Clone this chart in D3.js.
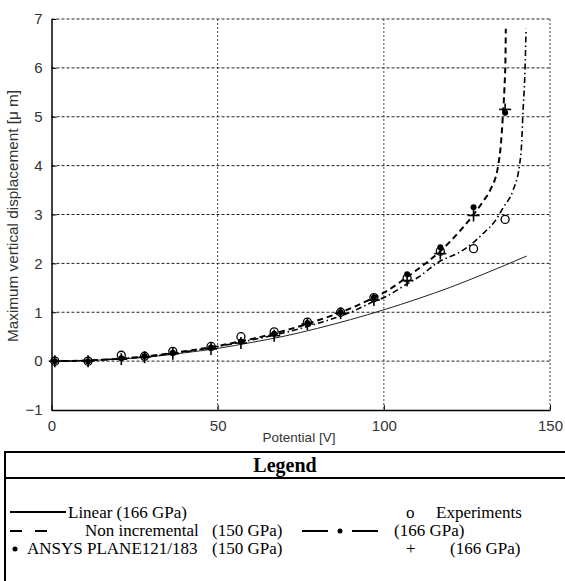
<!DOCTYPE html>
<html>
<head>
<meta charset="utf-8">
<script src="https://cdn.jsdelivr.net/npm/d3@7"></script>
<style>
  html, body { margin: 0; padding: 0; background: #fff; }
  svg { display: block; }
</style>
</head>
<body>
<svg id="chart" width="565" height="581"></svg>
<script>
// Applied potential [V] at which measurements / FE runs were taken
const potential = [1, 11, 21, 28, 36.5, 48, 57, 67, 77, 87, 97, 107, 117, 127, 136.5];
// Measured displacement [um]
const experiments = [0, 0, 0.12, 0.1, 0.2, 0.3, 0.5, 0.6, 0.8, 1.0, 1.3, 1.7, 2.25, 2.3, 2.9];
// ANSYS PLANE121/183 results
const ansys150 = [0, 0, 0.06, 0.1, 0.17, 0.28, 0.4, 0.56, 0.78, 1.0, 1.3, 1.78, 2.33, 3.15, 5.08];
const ansys166 = [0, 0, 0.04, 0.08, 0.15, 0.25, 0.37, 0.52, 0.76, 0.98, 1.25, 1.65, 2.2, 2.98, 5.15];

// Linear model (166 GPa)
const linearV = [0, 10, 20, 30, 40, 50, 60, 70, 80, 90, 100, 110, 120, 130, 143];
const linearD = [0, 0.01, 0.04, 0.09, 0.17, 0.26, 0.38, 0.51, 0.67, 0.85, 1.05, 1.27, 1.51, 1.78, 2.15];

// Non incremental model (150 GPa)
const nonInc150V = [0, 10, 20, 30, 40, 50, 60, 70, 80, 90, 97, 100, 107, 110, 117, 120, 127, 130, 132, 134.4, 135.3, 135.8, 136.3, 136.6, 136.7];
const nonInc150D = [0, 0.01, 0.05, 0.11, 0.2, 0.31, 0.45, 0.62, 0.83, 1.08, 1.3, 1.4, 1.72, 1.87, 2.25, 2.45, 3.0, 3.28, 3.5, 4.0, 4.5, 5.0, 5.6, 6.2, 6.8];

// Non incremental model (166 GPa)
const nonInc166V = [0, 10, 20, 30, 40, 50, 60, 70, 80, 90, 97, 100, 107, 110, 117, 122, 127, 130, 133.5, 136, 138.9, 140.8, 141.5, 141.8, 142.5, 142.8];
const nonInc166D = [0, 0.01, 0.05, 0.1, 0.19, 0.3, 0.43, 0.58, 0.77, 1.0, 1.22, 1.3, 1.58, 1.7, 2.05, 2.2, 2.43, 2.62, 2.87, 3.15, 3.5, 4.0, 4.5, 5.0, 6.0, 6.8];

const xTicks = [0, 50, 100, 150];
const yTicks = [-1, 0, 1, 2, 3, 4, 5, 6, 7];

const svg = d3.select("#chart");
const plot = { left: 51.5, right: 550, top: 19, bottom: 410 };

const x = d3.scaleLinear().domain([0, 150]).range([plot.left, plot.right]);
const y = d3.scaleLinear().domain([-1, 7]).range([plot.bottom, plot.top]);

// Dotted grid
const grid = svg.append("g").attr("class", "grid");
grid.selectAll("line.h").data(yTicks.filter(d => d > -1)).enter().append("line")
  .attr("x1", plot.left).attr("x2", plot.right)
  .attr("y1", d => y(d)).attr("y2", d => y(d))
  .attr("stroke", "#222").attr("stroke-width", 1).attr("stroke-dasharray", "3,2");
grid.selectAll("line.v").data(xTicks.filter(d => d > 0)).enter().append("line")
  .attr("y1", plot.top).attr("y2", plot.bottom)
  .attr("x1", d => x(d)).attr("x2", d => x(d))
  .attr("stroke", "#444").attr("stroke-width", 1).attr("stroke-dasharray", "2,2");

// Axes (ticks drawn inward)
const xAxis = d3.axisBottom(x).tickValues(xTicks).tickSizeInner(-5).tickSizeOuter(0).tickPadding(10);
const yAxis = d3.axisLeft(y).tickValues(yTicks).tickSizeInner(-5).tickSizeOuter(0).tickPadding(9);

const gx = svg.append("g").attr("transform", `translate(0,${plot.bottom})`).call(xAxis);
const gy = svg.append("g").attr("transform", `translate(${plot.left},0)`).call(yAxis);
[gx, gy].forEach(g => {
  g.select(".domain").attr("stroke", "#000").attr("stroke-width", 1.5);
  g.selectAll(".tick line").attr("stroke", "#000");
  g.selectAll(".tick text")
    .attr("font-family", "Liberation Sans, Arial, sans-serif")
    .attr("font-size", 15).attr("fill", "#333");
});

// Axis titles
svg.append("text")
  .attr("x", 299).attr("y", 442)
  .attr("text-anchor", "middle")
  .attr("font-family", "Liberation Sans, Arial, sans-serif")
  .attr("font-size", 13.5).attr("fill", "#333")
  .text("Potential [V]");

svg.append("text")
  .attr("transform", `translate(18,216) rotate(-90)`)
  .attr("text-anchor", "middle")
  .attr("font-family", "Liberation Sans, Arial, sans-serif")
  .attr("font-size", 14).attr("fill", "#333")
  .attr("textLength", 252).attr("lengthAdjust", "spacingAndGlyphs")
  .text("Maximum vertical displacement [\u03bc m]");

// Model curves
const line = d3.line().x(d => x(d[0])).y(d => y(d[1])).curve(d3.curveMonotoneX);
const zip = (a, b) => a.map((v, i) => [v, b[i]]);

svg.append("path").datum(zip(linearV, linearD)).attr("d", line)
  .attr("fill", "none").attr("stroke", "#222").attr("stroke-width", 1);

svg.append("path").datum(zip(nonInc166V, nonInc166D)).attr("d", line)
  .attr("fill", "none").attr("stroke", "#000").attr("stroke-width", 1.6)
  .attr("stroke-dasharray", "6,3,1.5,3");

svg.append("path").datum(zip(nonInc150V, nonInc150D)).attr("d", line)
  .attr("fill", "none").attr("stroke", "#000").attr("stroke-width", 2)
  .attr("stroke-dasharray", "6,4");

// Markers
const marks = svg.append("g");
marks.selectAll("circle.exp").data(zip(potential, experiments)).enter().append("circle")
  .attr("cx", d => x(d[0])).attr("cy", d => y(d[1])).attr("r", 4)
  .attr("fill", "none").attr("stroke", "#000").attr("stroke-width", 1.3);

marks.selectAll("circle.ans").data(zip(potential, ansys150)).enter().append("circle")
  .attr("cx", d => x(d[0])).attr("cy", d => y(d[1])).attr("r", 3)
  .attr("fill", "#000");

const plus = marks.selectAll("g.plus").data(zip(potential, ansys166)).enter().append("g")
  .attr("transform", d => `translate(${x(d[0])},${y(d[1])})`);
plus.append("line").attr("x1", -6).attr("x2", 6).attr("stroke", "#000").attr("stroke-width", 1.6);
plus.append("line").attr("y1", -6).attr("y2", 6).attr("stroke", "#000").attr("stroke-width", 1.6);

// Legend box
const lg = svg.append("g");
const serif = "Liberation Serif, Times New Roman, serif";
lg.append("rect").attr("x", 5).attr("y", 452).attr("width", 580).attr("height", 140)
  .attr("fill", "#fff").attr("stroke", "#000").attr("stroke-width", 2);
lg.append("line").attr("x1", 5).attr("x2", 585).attr("y1", 478).attr("y2", 478)
  .attr("stroke", "#000").attr("stroke-width", 2);
lg.append("text").attr("x", 285).attr("y", 472).attr("text-anchor", "middle")
  .attr("font-family", serif).attr("font-weight", "bold").attr("font-size", 20)
  .text("Legend");

const txt = (xp, yp, s) => lg.append("text").attr("x", xp).attr("y", yp)
  .attr("font-family", serif).attr("font-size", 17).attr("fill", "#000").text(s);

// Row 1
lg.append("line").attr("x1", 10).attr("x2", 66).attr("y1", 512).attr("y2", 512)
  .attr("stroke", "#000").attr("stroke-width", 2);
txt(68, 518, "Linear (166 GPa)");
txt(406, 518, "o");
txt(436, 518, "Experiments");

// Row 2
lg.append("line").attr("x1", 10).attr("x2", 47).attr("y1", 531).attr("y2", 531)
  .attr("stroke", "#000").attr("stroke-width", 2).attr("stroke-dasharray", "12,13");
txt(85, 536, "Non incremental");
txt(212, 536, "(150 GPa)");
lg.append("line").attr("x1", 302).attr("x2", 328).attr("y1", 531).attr("y2", 531)
  .attr("stroke", "#000").attr("stroke-width", 2);
lg.append("circle").attr("cx", 340).attr("cy", 531).attr("r", 2.5).attr("fill", "#000");
lg.append("line").attr("x1", 352).attr("x2", 378).attr("y1", 531).attr("y2", 531)
  .attr("stroke", "#000").attr("stroke-width", 2);
txt(394, 536, "(166 GPa)");

// Row 3
lg.append("circle").attr("cx", 15).attr("cy", 549).attr("r", 2.5).attr("fill", "#000");
txt(27, 554, "ANSYS PLANE121/183");
txt(212, 554, "(150 GPa)");
txt(406, 554, "+");
txt(450, 554, "(166 GPa)");
</script>
</body>
</html>
